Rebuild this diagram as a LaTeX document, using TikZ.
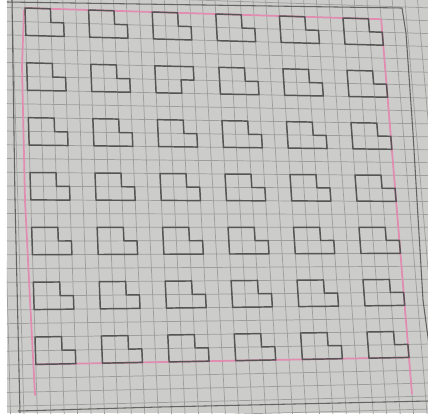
\documentclass[tikz,border=0pt]{standalone}
\definecolor{paper}{RGB}{204,204,202}
\definecolor{gridc}{RGB}{158,158,158}
\definecolor{penc}{RGB}{85,85,85}
\definecolor{pinkc}{RGB}{226,140,178}
\definecolor{darkc}{RGB}{100,100,100}
\tikzset{
  gridline/.style={draw=gridc,line width=0.55pt},
  pencil/.style={draw=penc,line width=1.1pt,line join=round},
  marker/.style={draw=pinkc,line width=1.3pt,line cap=round,line join=round},
  darkline/.style={draw=darkc,line width=0.8pt}
}
\begin{document}
\begin{tikzpicture}[x=0.75pt,y=-0.75pt,
  declare function={bx(\u,\v)=25+12.72*\u+0.4167*\v+0.02333*\u*\v;
                    by(\u,\v)=8+0.4*\u+13.7083*\v-0.025*\u*\v;}]
\useasboundingbox (0,0) rectangle (430,419);
\fill[white] (0,0) rectangle (430,419);
\begin{scope}
\clip (7,0) rectangle (428,413);
\fill[paper] (7,0) rectangle (428,413);
% graph paper grid
\foreach \u in {-3,...,33}
  \draw[gridline] ({bx(\u,-2)},{by(\u,-2)}) -- ({bx(\u,32)},{by(\u,32)});
\foreach \v in {-2,...,32}
  \draw[gridline] ({bx(-3,\v)},{by(-3,\v)}) -- ({bx(34,\v)},{by(34,\v)});
% darker pencil border lines
\draw[darkline] (12,0) -- (15,200) -- (20,413);
\draw[darkline] (7,2) -- (402,8);
\draw[darkline] (402,8) -- (406,33) -- (413,133) -- (417,200) -- (423,300) -- (429,345);
\draw[darkline] (18,411) -- (160,407) -- (429,401);
% pink frame
\draw[marker] ({bx(0,0)},{by(0,0)}) -- ({bx(28,0)},{by(28,0)});
\draw[marker] ({bx(0,26)},{by(0,26)}) -- ({bx(28,26)},{by(28,26)});
\draw[marker] (24,10) -- (22,67) -- (25,200) -- (30,300) -- (35,395);
\draw[marker] ({bx(28,0)},{by(28,0)}) -- ({bx(28,28.8)},{by(28,28.8)});
% L-shapes
\foreach \r in {0,...,6}{
  \foreach \c in {0,...,5}{
    \pgfmathsetmacro\U{5*\c}
    \pgfmathsetmacro\V{4*\r}
    \pgfmathtruncatemacro\isg{and(\r==1,\c==2)}
    \ifnum\isg=1
      \draw[pencil] ({bx(\U,\V)},{by(\U,\V)}) -- ({bx(\U+3,\V)},{by(\U+3,\V)})
        -- ({bx(\U+3,\V+1)},{by(\U+3,\V+1)}) -- ({bx(\U+2,\V+1)},{by(\U+2,\V+1)})
        -- ({bx(\U+2,\V+2)},{by(\U+2,\V+2)}) -- ({bx(\U,\V+2)},{by(\U,\V+2)}) -- cycle;
    \else
      \draw[pencil] ({bx(\U,\V)},{by(\U,\V)}) -- ({bx(\U+2,\V)},{by(\U+2,\V)})
        -- ({bx(\U+2,\V+1)},{by(\U+2,\V+1)}) -- ({bx(\U+3,\V+1)},{by(\U+3,\V+1)})
        -- ({bx(\U+3,\V+2)},{by(\U+3,\V+2)}) -- ({bx(\U,\V+2)},{by(\U,\V+2)}) -- cycle;
    \fi
  }
}
\end{scope}
\end{tikzpicture}
\end{document}
